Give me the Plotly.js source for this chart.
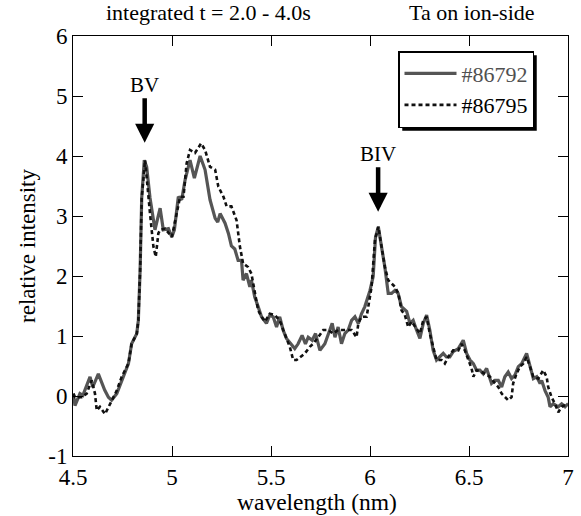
<!DOCTYPE html>
<html>
<head>
<meta charset="utf-8">
<script src="https://cdn.plot.ly/plotly-3.0.1.min.js"></script>
<style>html,body{margin:0;padding:0;background:#fff;}#chart{width:581px;height:516px;}</style>
</head>
<body>
<div id="chart"></div>
<script>
// shot #86792 (solid grey)
const wl86792 = [4.502,4.510,4.535,4.550,4.586,4.600,4.628,4.660,4.679,4.695,4.721,4.754,4.780,4.796,4.822,4.830,4.839,4.847,4.860,4.872,4.889,4.914,4.940,4.956,4.982,4.999,5.012,5.032,5.049,5.066,5.091,5.113,5.142,5.167,5.192,5.218,5.231,5.243,5.268,5.285,5.300,5.317,5.334,5.351,5.359,5.376,5.393,5.401,5.418,5.435,5.452,5.477,5.494,5.511,5.528,5.544,5.561,5.578,5.603,5.620,5.637,5.657,5.674,5.688,5.708,5.725,5.747,5.772,5.797,5.809,5.823,5.839,5.856,5.873,5.890,5.907,5.924,5.941,5.957,5.974,6.000,6.016,6.028,6.042,6.058,6.075,6.092,6.109,6.126,6.142,6.159,6.185,6.202,6.218,6.235,6.252,6.269,6.286,6.302,6.319,6.336,6.353,6.370,6.386,6.403,6.420,6.446,6.471,6.488,6.505,6.522,6.538,6.555,6.572,6.589,6.614,6.631,6.648,6.665,6.681,6.698,6.715,6.732,6.749,6.766,6.791,6.808,6.825,6.842,6.859,6.867,6.884,6.900,6.909,6.926,6.951,6.968,6.985,7.000];
const int86792 = [0.04,-0.16,0.04,0.01,0.32,0.15,0.37,0.10,-0.02,-0.07,0.04,0.32,0.54,0.87,1.04,1.26,2.10,3.30,3.93,3.82,3.30,2.77,3.13,2.77,2.79,2.65,2.77,3.32,3.27,3.60,3.93,3.63,4.00,3.77,3.27,2.96,2.90,3.04,2.88,2.71,2.50,2.45,2.26,2.26,1.93,2.04,1.82,1.93,1.65,1.49,1.32,1.21,1.35,1.32,1.15,1.32,1.10,0.96,0.87,0.79,0.87,1.01,0.87,0.98,0.93,1.04,0.76,0.87,1.10,1.21,0.98,1.15,0.87,1.04,1.10,1.26,1.32,1.21,1.37,1.49,1.76,1.99,2.65,2.82,2.49,2.15,1.71,1.71,1.76,1.71,1.49,1.41,1.21,1.26,1.10,0.96,1.21,1.35,1.10,0.76,0.60,0.65,0.71,0.65,0.65,0.74,0.79,0.93,0.71,0.60,0.54,0.43,0.43,0.37,0.46,0.21,0.26,0.26,0.15,0.32,0.40,0.29,0.35,0.49,0.54,0.71,0.49,0.29,0.32,0.21,0.26,0.09,-0.02,-0.18,-0.13,-0.18,-0.13,-0.18,-0.13];
// shot #86795 (dashed black)
const wl86795 = [4.502,4.510,4.544,4.569,4.594,4.611,4.620,4.636,4.662,4.679,4.695,4.721,4.746,4.780,4.796,4.822,4.830,4.839,4.847,4.864,4.889,4.906,4.918,4.931,4.940,4.965,4.999,5.024,5.041,5.058,5.074,5.091,5.116,5.147,5.167,5.192,5.218,5.234,5.260,5.276,5.300,5.326,5.343,5.359,5.384,5.401,5.418,5.435,5.452,5.469,5.494,5.519,5.544,5.561,5.578,5.595,5.612,5.629,5.646,5.671,5.696,5.713,5.738,5.764,5.789,5.814,5.839,5.865,5.882,5.907,5.932,5.941,5.957,5.983,6.008,6.025,6.042,6.058,6.075,6.092,6.109,6.126,6.143,6.159,6.176,6.193,6.210,6.227,6.252,6.269,6.286,6.302,6.319,6.336,6.361,6.378,6.395,6.420,6.446,6.462,6.479,6.496,6.513,6.522,6.538,6.564,6.580,6.606,6.631,6.648,6.665,6.681,6.698,6.715,6.723,6.740,6.757,6.774,6.791,6.808,6.825,6.850,6.875,6.892,6.900,6.917,6.934,6.951,6.968,6.985,7.000];
const int86795 = [0.04,-0.02,-0.02,0.04,0.26,0.04,-0.24,-0.18,-0.30,-0.18,-0.07,0.09,0.32,0.54,0.87,1.04,1.26,2.10,3.30,3.93,3.04,2.49,2.32,2.71,2.77,2.79,2.65,3.04,3.32,3.32,3.88,4.10,4.05,4.21,4.10,3.82,3.77,3.49,3.32,3.16,3.16,2.93,2.49,2.21,2.15,2.04,1.71,1.43,1.32,1.24,1.37,1.35,1.26,1.10,0.96,0.82,0.60,0.60,0.65,0.71,0.82,0.87,0.98,1.10,1.10,1.04,1.10,1.10,1.10,1.10,0.98,1.21,1.32,1.32,1.82,2.60,2.82,2.49,2.15,1.93,1.88,1.82,1.71,1.43,1.35,1.15,1.24,1.15,1.04,1.26,1.32,1.04,0.82,0.60,0.60,0.54,0.65,0.76,0.76,0.87,0.76,0.60,0.46,0.32,0.43,0.40,0.37,0.32,0.21,0.15,0.04,-0.02,-0.07,-0.02,0.21,0.37,0.49,0.54,0.65,0.49,0.32,0.29,0.43,0.32,0.15,-0.02,-0.13,-0.27,-0.18,-0.15,-0.13];
const seriesNames = ['#86792', '#86795'];
const xTicks = [4.5, 5, 5.5, 6, 6.5, 7];
const yTicks = [-1, 0, 1, 2, 3, 4, 5, 6];
const lineLabels = ['BV', 'BIV'];
const lineWl = [4.862, 6.041];
const lineTip = [4.22, 3.07];

const FONT = 'Liberation Serif, Times New Roman, serif';
const W = 581, H = 516, ML = 73, MR = 13, MT = 36, MB = 60;
const pw = W - ML - MR, ph = H - MT - MB;
const px2x = p => (p - ML) / pw;
const py2y = p => (H - MB - p) / ph;

const traces = [
  {x: wl86792, y: int86792, type: 'scatter', mode: 'lines', name: '<span style="color:#505050">' + seriesNames[0] + '</span>',
   line: {color: '#555555', width: 3.2}},
  {x: wl86795, y: int86795, type: 'scatter', mode: 'lines', name: seriesNames[1],
   line: {color: '#111111', width: 2.6, dash: '4px,3px'}}
];

const axisCommon = {showgrid: false, zeroline: false, showline: true, linecolor: '#000', linewidth: 1,
  mirror: 'ticks', ticks: 'inside', ticklen: 10, tickwidth: 1, tickcolor: '#000',
  tickfont: {family: FONT, size: 23, color: '#000'}};

const layout = {
  width: W, height: H,
  margin: {l: ML, r: MR, t: MT, b: MB},
  paper_bgcolor: '#fff', plot_bgcolor: '#fff',
  font: {family: FONT, color: '#000'},
  xaxis: Object.assign({}, axisCommon, {range: [4.5, 7], tickvals: xTicks, ticktext: xTicks.map(String)}),
  yaxis: Object.assign({}, axisCommon, {range: [-1, 6], tickvals: yTicks, ticktext: yTicks.map(String),
    title: {text: 'relative intensity', font: {family: FONT, size: 23}, standoff: 6}}),
  showlegend: true,
  legend: {x: px2x(398), y: py2y(51), xanchor: 'left', yanchor: 'top', bgcolor: '#fff',
    bordercolor: '#000', borderwidth: 1.5, font: {family: FONT, size: 22, color: '#000'},
    itemwidth: 52, tracegroupgap: 0},
  shapes: [],
  annotations: [
    {xref: 'paper', yref: 'paper', x: px2x(208), y: py2y(13), text: 'integrated t = 2.0 - 4.0s', showarrow: false,
     font: {family: FONT, size: 22}, xanchor: 'center', yanchor: 'middle'},
    {xref: 'paper', yref: 'paper', x: px2x(472), y: py2y(13), text: 'Ta on ion-side', showarrow: false,
     font: {family: FONT, size: 22}, xanchor: 'center', yanchor: 'middle'},
    {xref: 'paper', yref: 'paper', x: px2x(317), y: py2y(502), text: 'wavelength (nm)', showarrow: false,
     font: {family: FONT, size: 23.5}, xanchor: 'center', yanchor: 'middle', borderpad: 0}
  ]
};
for (let i = 0; i < lineLabels.length; i++) {
  layout.annotations.push({x: lineWl[i], y: lineTip[i], xref: 'x', yref: 'y', text: lineLabels[i],
    showarrow: true, ax: 0, ay: -58, arrowhead: 2, arrowsize: 0.85, arrowwidth: 4.5, arrowcolor: '#000',
    font: {family: FONT, size: 21, color: '#000'}});
}
Plotly.newPlot('chart', traces, layout, {displayModeBar: false, staticPlot: true}).then(gd => {
  const bg = gd.querySelector('.legend .bg');
  const root = gd.getBoundingClientRect();
  if (bg) {
    const r = bg.getBoundingClientRect();
    const off = 3.5;
    Plotly.relayout(gd, {shapes: [{type: 'rect', xref: 'paper', yref: 'paper',
      x0: px2x(r.left - root.left + off), x1: px2x(r.right - root.left + off),
      y0: py2y(r.bottom - root.top + off), y1: py2y(r.top - root.top + off),
      fillcolor: '#000', line: {width: 0}, layer: 'above'}]});
  }
});
</script>
</body>
</html>
